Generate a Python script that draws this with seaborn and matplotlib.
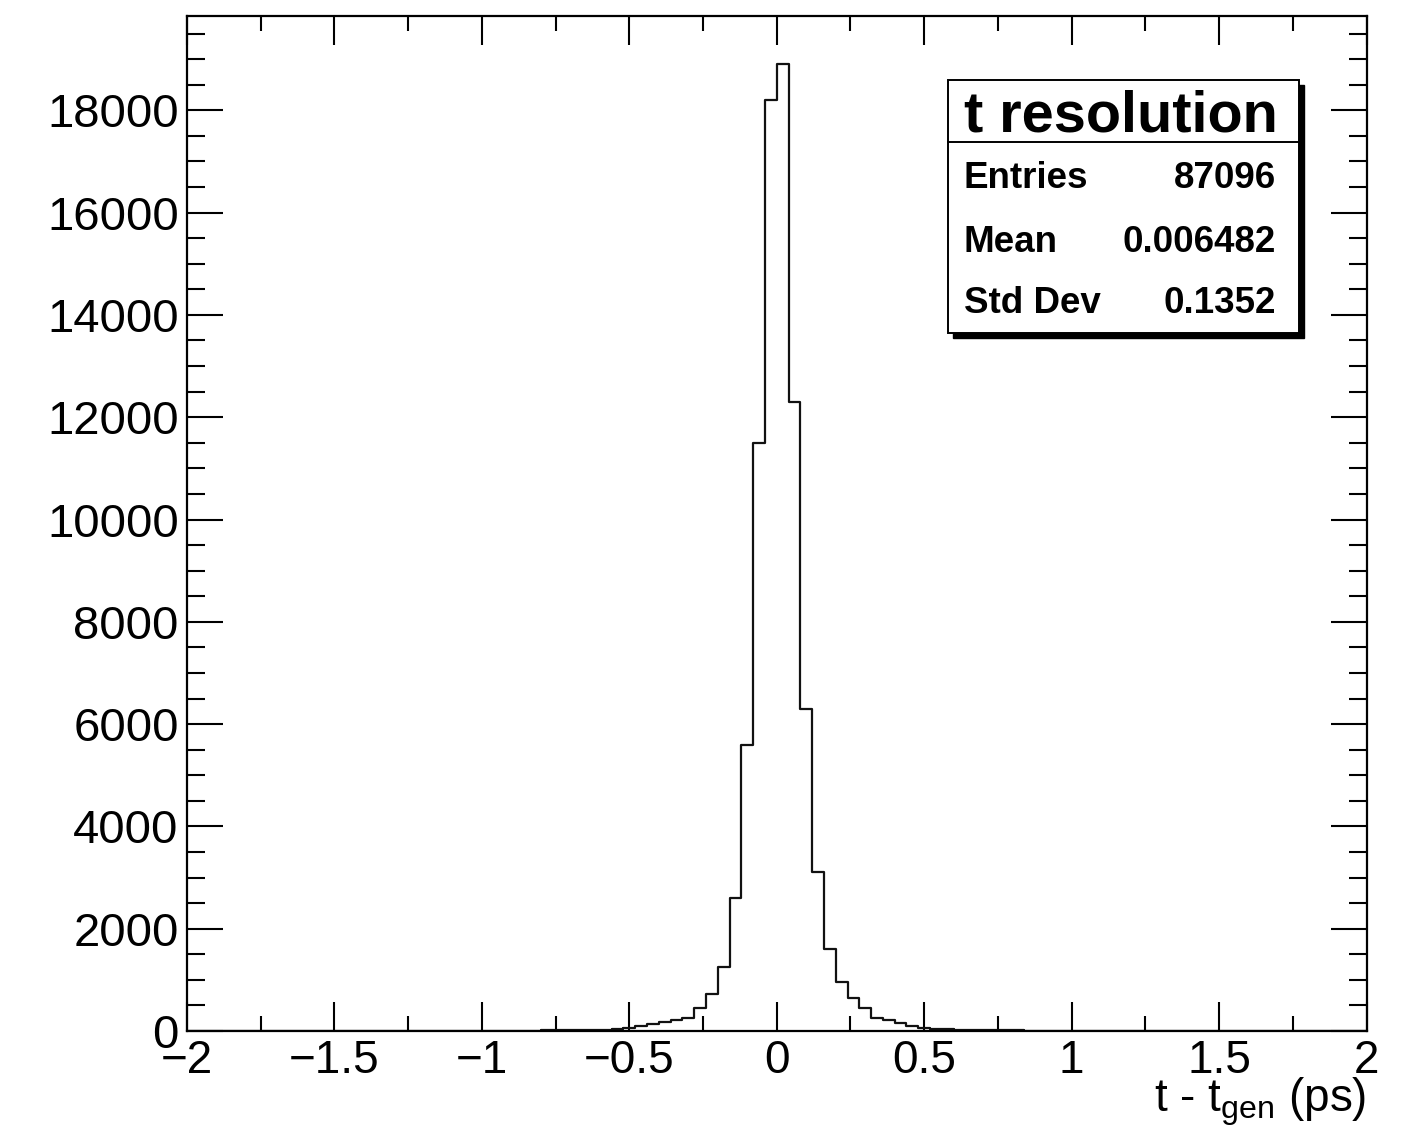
import numpy as np
import pandas as pd
import matplotlib
matplotlib.use("Agg")
import matplotlib.pyplot as plt
from matplotlib.patches import Rectangle
from matplotlib.ticker import MultipleLocator
import seaborn as sns

# ---- data ----
x_min, x_max, n_bins = -2.0, 2.0, 100
counts = [
    # -2.00 .. -1.04
    1, 0, 1, 1, 0, 1, 1, 1, 2, 1, 1, 2, 1, 2, 2, 2, 3, 2, 3, 3, 4, 3, 4, 4, 5,
    # -1.00 .. -0.52
    5, 6, 7, 8, 9, 11, 13, 15, 18, 20, 22, 30, 50,
    # -0.48 .. -0.04
    90, 130, 170, 210, 250, 440, 720, 1250, 2600, 5600, 11500, 18200,
    # 0.00 .. 0.80
    18900, 12300, 6300, 3100, 1600, 950, 640, 440, 260, 210, 160, 100, 60,
    45, 35, 28, 24, 20, 16, 13, 11,
    # 0.84 .. 1.96
    9, 8, 7, 6, 6, 5, 5, 4, 4, 3, 3, 3, 3, 2, 2, 2, 2, 2, 1, 1,
    1, 1, 1, 1, 1, 1, 0, 1, 0,
]
stats_title = "t resolution"
stats_names = ["Entries", "Mean", "Std Dev"]
stats_values = ["87096", "0.006482", "0.1352"]
x_label = r"t - t$_{gen}$ (ps)"
y_max = 19850

edges = np.linspace(x_min, x_max, n_bins + 1)
centers = 0.5 * (edges[:-1] + edges[1:])
df = pd.DataFrame({"t": centers, "w": np.asarray(counts, dtype=float)})

# ---- style ----
sns.set_style("ticks")
plt.rcParams["font.family"] = ["Liberation Sans", "DejaVu Sans"]
plt.rcParams["mathtext.fontset"] = "custom"
plt.rcParams["mathtext.rm"] = "Liberation Sans"
plt.rcParams["mathtext.it"] = "Liberation Sans"
plt.rcParams["mathtext.default"] = "regular"
plt.rcParams["text.color"] = "black"
plt.rcParams["axes.labelcolor"] = "black"
plt.rcParams["xtick.color"] = "black"
plt.rcParams["ytick.color"] = "black"

W, H = 1405, 1127
fig = plt.figure(figsize=(W / 100, H / 100), dpi=100)
fig.patch.set_facecolor("white")
ax = fig.add_axes([187 / W, 1 - 1031 / H, (1366.5 - 187) / W, (1031 - 15.7) / H])
ax.set_facecolor("white")

sns.histplot(data=df, x="t", weights="w", bins=n_bins, binrange=(x_min, x_max),
             element="step", fill=False, color="#111111", linewidth=1.6, ax=ax)

ax.set_xlim(x_min, x_max)
ax.set_ylim(0, y_max)
ax.set_ylabel("")
ax.set_xlabel(x_label, fontsize=33, loc="right", labelpad=-5.5, color="black")

for s in ax.spines.values():
    s.set_linewidth(1.6)
    s.set_color("black")
    s.set_visible(True)

ax.xaxis.set_major_locator(MultipleLocator(0.5))
ax.xaxis.set_minor_locator(MultipleLocator(0.25))
ax.yaxis.set_major_locator(MultipleLocator(2000))
ax.yaxis.set_minor_locator(MultipleLocator(500))

ax.tick_params(axis="both", which="both", direction="in", top=True, right=True,
               colors="black", labelcolor="black", width=1.5)
ax.tick_params(axis="x", which="major", length=21, labelsize=33, pad=6)
ax.tick_params(axis="x", which="minor", length=10.5)
ax.tick_params(axis="y", which="major", length=26, labelsize=34, pad=6)
ax.tick_params(axis="y", which="minor", length=13)

def fmt(v, pos):
    s = f"{v:g}"
    return s.replace("-", "\u2212")
ax.xaxis.set_major_formatter(matplotlib.ticker.FuncFormatter(fmt))

# ---- stats box ----
bx0, bx1 = 948.3 / W, 1299 / W
by0, by1 = 1 - 333 / H, 1 - 80 / H
dx, dy = 5 / W, 5 / H
fig.patches.append(Rectangle((bx0 + dx, by0 - dy), bx1 - bx0, by1 - by0,
                             transform=fig.transFigure, facecolor="black",
                             edgecolor="black", zorder=5))
fig.patches.append(Rectangle((bx0, by0), bx1 - bx0, by1 - by0,
                             transform=fig.transFigure, facecolor="white",
                             edgecolor="black", linewidth=1.4, zorder=6))
ydiv = 1 - 141.7 / H
fig.lines.append(plt.Line2D([bx0, bx1], [ydiv, ydiv], transform=fig.transFigure,
                            color="black", linewidth=1.4, zorder=7))
fig.text(1120.8 / W, 1 - 131.7 / H, stats_title, ha="center", va="baseline",
         fontsize=41.5, fontweight="bold", color="black", zorder=8)
row_base = [188.3, 251.7, 313.3]
for name, val, yb in zip(stats_names, stats_values, row_base):
    fig.text(964 / W, 1 - yb / H, name, ha="left", va="baseline",
             fontsize=26.5, fontweight="bold", color="black", zorder=8)
    fig.text(1276 / W, 1 - yb / H, val, ha="right", va="baseline",
             fontsize=26.5, fontweight="bold", color="black", zorder=8)

fig.savefig("out.png", dpi=100)
